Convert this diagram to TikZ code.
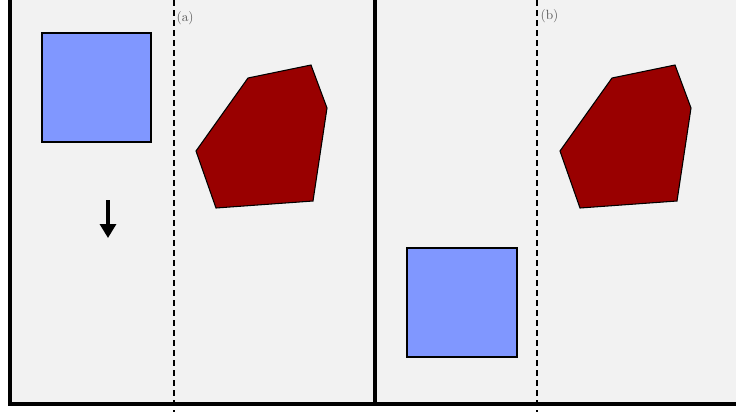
\documentclass[tikz,border=0pt]{standalone}
\usepackage{xcolor}
\definecolor{panelgray}{RGB}{242,242,242}
\definecolor{blockblue}{RGB}{128,151,255}
\definecolor{obstred}{RGB}{153,0,0}
\definecolor{labelgray}{RGB}{90,90,90}
\usepackage{tikz}
\usetikzlibrary{arrows.meta, positioning}

\begin{document}
\begin{tikzpicture}[
  x=0.75pt, y=-0.75pt,
  panel/.style={fill=panelgray},
  frame/.style={line width=3pt,color=black},
  divider/.style={dash pattern=on 4.5pt off 3pt,line width=0.9pt},
  block/.style={draw=black,fill=blockblue,line width=0.8pt},
  obstacle/.style={draw=black,fill=obstred,line width=0.8pt,line join=miter},
  move/.style={-{Triangle[width=12pt,length=10.5pt]},line width=2.4pt},
  tag/.style={anchor=west,inner sep=1pt,text=labelgray,font=\normalsize}
]
  \useasboundingbox (0,0) rectangle (736,412);

  % panels
  \fill[panel] (10,0) rectangle (375,404);
  \fill[panel] (375,0) rectangle (736,404);
  \draw[frame] (10,-5) -- (10,404) -- (375,404);
  \draw[frame] (375,-5) -- (375,404) -- (741,404);

  % (a) before the move
  \draw[divider] (174,0) -- (174,412);
  \node[tag] (taga) at (175,18) {(a)};
  \filldraw[block] (42,33) rectangle (151,142);
  \filldraw[obstacle] (196,151) -- (248,78) -- (311,65) -- (327,108)
    -- (313,201) -- (216,208) -- cycle;
  \coordinate (from) at (108,200);
  \coordinate (to) at (108,238);
  \draw[move] (from) -- (to);

  % (b) after the move
  \draw[divider] (537,0) -- (537,412);
  \node[tag] (tagb) at (539,16) {(b)};
  \filldraw[block] (407,248) rectangle (517,357);
  \filldraw[obstacle] (560,151) -- (612,78) -- (675,65) -- (691,108)
    -- (677,201) -- (580,208) -- cycle;
\end{tikzpicture}
\end{document}
